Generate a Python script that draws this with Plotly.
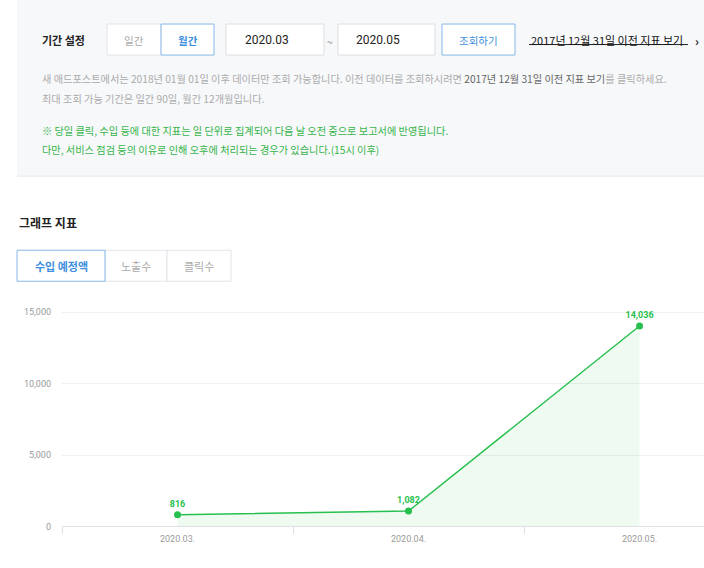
import plotly.graph_objects as go

# ---- data ----
categories = ["2020.03.", "2020.04.", "2020.05."]
revenue = [816, 1082, 14036]
revenue_labels = ["816", "1,082", "14,036"]
y_ticks = [0, 5000, 10000, 15000]
y_tick_labels = ["0", "5,000", "10,000", "15,000"]

W, H = 704, 568
HS = 562.5  # empirical vertical scale correction


def X(px):
    return px / W


def Y(py):
    return 1 - py / HS


GREEN = "#27c04e"
KR = "Noto Sans CJK KR"
BLUE_TXT = "#3d8fde"
BLUE_BORDER = "#86b8e8"
GRAY_BORDER = "#e1e4e8"

fig = go.Figure()
fig.add_trace(go.Scatter(
    x=categories, y=revenue, mode="lines+markers+text",
    text=revenue_labels, textposition="top center",
    textfont=dict(family="Roboto", size=9, color=GREEN, weight="bold"),
    line=dict(color=GREEN, width=1.4),
    marker=dict(size=7, color=GREEN),
    fill="tozeroy", fillcolor="rgba(46,196,80,0.08)",
    cliponaxis=False, hoverinfo="skip", showlegend=False,
))

px_per_unit = 214 / 15000
y_top = 15500
fig.update_xaxes(
    type="category", range=[-0.5, 2.279], domain=[X(62), 1],
    showline=True, linecolor="#dde1e6", linewidth=1,
    ticks="outside", tickson="boundaries", ticklen=7, tickcolor="#dde1e6",
    showgrid=False, tickfont=dict(family="Roboto", size=9, color="#9a9a9a"),
    ticklabelstandoff=4,
)
fig.update_yaxes(
    range=[0, y_top], domain=[Y(526), Y(526 - y_top * px_per_unit)],
    tickvals=y_ticks, ticktext=y_tick_labels,
    gridcolor="#eef0f2", zeroline=False, showline=False,
    tickfont=dict(family="Roboto", size=9, color="#9a9a9a"),
    ticklabelstandoff=10,
)

shapes = []


def rect(x0, y0, x1, y1, fill="white", line=GRAY_BORDER, lw=1):
    shapes.append(dict(type="rect", xref="paper", yref="paper",
                       x0=X(x0), x1=X(x1), y0=Y(y1), y1=Y(y0),
                       fillcolor=fill, line=dict(color=line, width=lw), layer="below"))


def hline(x0, x1, y, color, lw=1):
    shapes.append(dict(type="line", xref="paper", yref="paper",
                       x0=X(x0), x1=X(x1), y0=Y(y), y1=Y(y),
                       line=dict(color=color, width=lw), layer="below"))


# top panel
rect(17, -2, 705, 176, fill="#f7f8fa", line="#f7f8fa", lw=0)
hline(17, 704, 176, "#e6e8eb")
# toggles
rect(107, 24, 161, 55, line=GRAY_BORDER)
rect(161, 24, 214, 55, line=BLUE_BORDER)
# date inputs
rect(226, 24, 324, 55, line="#dcdfe3")
rect(338, 24, 435, 55, line="#dcdfe3")
# search button
rect(442, 24, 515, 55, line=BLUE_BORDER)
# link underline
hline(529, 688, 44.5, "#222222")
# tabs
rect(105, 250, 167, 281, line=GRAY_BORDER)
rect(167, 250, 231, 281, line=GRAY_BORDER)
rect(17, 250, 105, 281, line=BLUE_BORDER)

annotations = []


def txt(x, y, s, size=10, color="#333", anchor="left", bold=False, family=KR):
    annotations.append(dict(
        x=X(x), y=Y(y), xref="paper", yref="paper", text=s, showarrow=False,
        xanchor=anchor, yanchor="middle",
        font=dict(family=family, size=size, color=color, weight="bold" if bold else "normal"),
    ))


txt(40, 40, "기간 설정", size=11, color="#222", bold=True)
txt(134, 40, "일간", size=10.5, color="#aaaaaa", anchor="center")
txt(187.5, 40, "월간", size=10.5, color=BLUE_TXT, anchor="center", bold=True)
txt(243, 40, "2020.03", size=12, color="#222", family="Roboto")
txt(330, 41, "~", size=10, color="#888", anchor="center")
txt(354, 40, "2020.05", size=12, color="#222", family="Roboto")
txt(478.5, 40, "조회하기", size=10.5, color=BLUE_TXT, anchor="center")
txt(529, 39.5, "2017년 12월 31일 이전 지표 보기", size=11, color="#111")
txt(693, 40, "<b>›</b>", size=12, color="#222")

txt(40, 78,
    "새 애드포스트에서는 2018년 01월 01일 이후 데이터만 조회 가능합니다. 이전 데이터를 조회하시려면 "
    "<span style='color:#666666'>2017년 12월 31일 이전 지표 보기</span>를 클릭하세요.",
    size=10.2, color="#ababab")
txt(40, 98, "최대 조회 가능 기간은 일간 90일, 월간 12개월입니다.", size=10.2, color="#ababab")
txt(40, 130, "※ 당일 클릭, 수입 등에 대한 지표는 일 단위로 집계되어 다음 날 오전 중으로 보고서에 반영됩니다.",
    size=10.2, color="#35b54a")
txt(40, 149, "다만, 서비스 점검 등의 이유로 인해 오후에 처리되는 경우가 있습니다.(15시 이후)",
    size=10.2, color="#35b54a")

txt(17, 222, "그래프 지표", size=12, color="#222", bold=True)
txt(61, 265.5, "수입 예정액", size=11, color=BLUE_TXT, anchor="center", bold=True)
txt(136, 265.5, "노출수", size=11, color="#aaaaaa", anchor="center")
txt(199, 265.5, "클릭수", size=11, color="#aaaaaa", anchor="center")

fig.update_layout(
    width=W, height=H, margin=dict(l=0, r=0, t=0, b=0),
    paper_bgcolor="white", plot_bgcolor="rgba(0,0,0,0)",
    shapes=shapes, annotations=annotations, showlegend=False,
    font=dict(family=KR),
)

fig.write_html("out.html")
